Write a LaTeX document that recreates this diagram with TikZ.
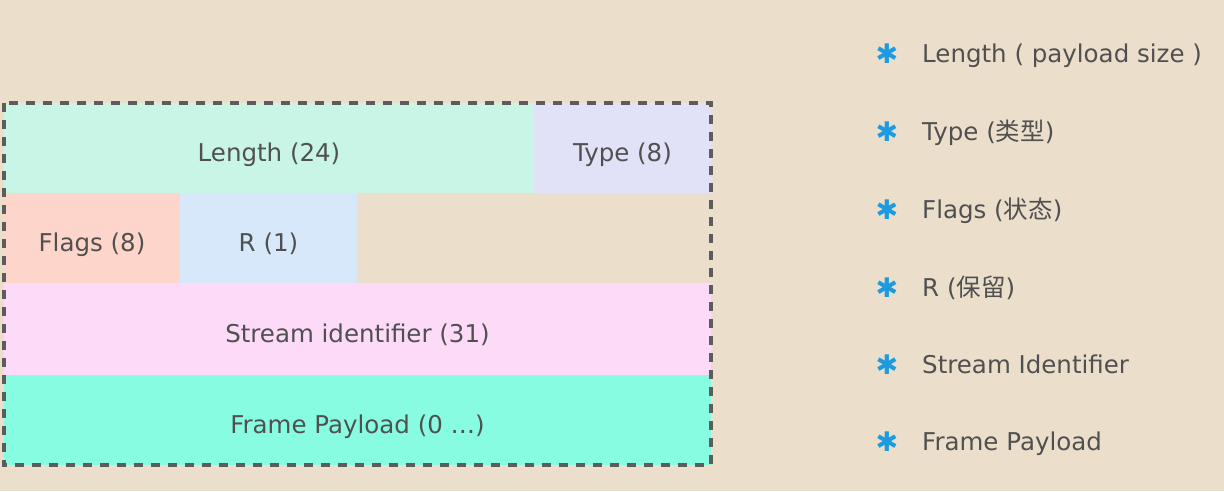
\documentclass[tikz,border=0pt]{standalone}
\usepackage{fontspec}
\setmainfont{DejaVu Sans}
\newfontfamily\cjk{Noto Sans CJK SC}
\newfontfamily\symf{DejaVu Sans}
\definecolor{bgc}{HTML}{EBDFCC}
\definecolor{txt}{HTML}{505050}
\definecolor{edge}{HTML}{5C5C5C}
\definecolor{star}{HTML}{1E9BE0}
\definecolor{clen}{HTML}{C8F5E6}
\definecolor{ctype}{HTML}{E1E1F8}
\definecolor{cflag}{HTML}{FDD5CA}
\definecolor{cr}{HTML}{D8E8FB}
\definecolor{cstream}{HTML}{FDDAF8}
\definecolor{cframe}{HTML}{87FCE0}
\newcommand{\legitem}[3]{\node[star] (s#1) at (887,#2-8) {\symf ✱}; \node[leg] (l#1) at (922,#2) {#3};}

\begin{document}
\begin{tikzpicture}[x=1pt,y=-1pt,
  cell/.style={inner sep=0pt, minimum height=90pt, text height=27pt, text depth=0pt, text=txt, font=\fontsize{24.5}{28}\selectfont},
  leg/.style={anchor=base west, inner sep=0pt, text=txt, font=\fontsize{24.5}{28}\selectfont},
  star/.style={inner sep=0pt, text=star, font=\fontsize{27}{30}\selectfont\bfseries}]
\fill[bgc] (0,0) rectangle (1224,491);
\useasboundingbox (0,0) rectangle (1224,491);
% frame fields
\node[cell, fill=clen, minimum width=530pt] (len) at (269,148) {Length (24)};
\node[cell, fill=ctype, minimum width=177pt] (type) at (622.5,148) {Type (8)};
\node[cell, fill=cflag, minimum width=176pt] (flag) at (92,238) {Flags (8)};
\node[cell, fill=cr, minimum width=177pt] (r) at (268.5,238) {R (1)};
\node[cell, fill=cstream, minimum width=707pt, minimum height=92pt] (stream) at (357.5,329) {Stream identifier (31)};
\node[cell, fill=cframe, minimum width=707pt] (frame) at (357.5,420) {Frame Payload (0 \dots)};
\draw[edge, line width=4pt, dash pattern=on 9pt off 8pt] (len.north west) rectangle (frame.south east);
% legend
\legitem{1}{62}{Length ( payload size )}
\legitem{2}{140}{Type ({\cjk 类型})}
\legitem{3}{218}{Flags ({\cjk 状态})}
\legitem{4}{296}{R ({\cjk 保留})}
\legitem{5}{373}{Stream Identifier}
\legitem{6}{450}{Frame Payload}
\end{tikzpicture}
\end{document}
